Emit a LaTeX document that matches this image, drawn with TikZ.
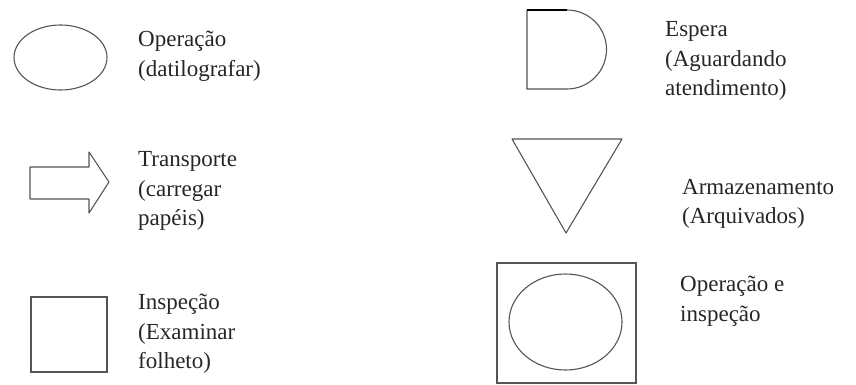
\documentclass[tikz,border=0pt]{standalone}
\usepackage{fontspec}
\setmainfont{Liberation Serif}
\usepackage{tikz}
\usetikzlibrary{shapes.geometric}
\definecolor{symline}{RGB}{85,85,85}
\begin{document}
\begin{tikzpicture}[x=1pt, y=-1pt,
  every node/.style={font=\fontsize{23}{29.5}\selectfont},
  sym/.style={draw=symline, line width=1.1pt, inner sep=0pt},
  lbl/.style={anchor=west, align=left, inner sep=0pt, text=black!85}
]
\useasboundingbox (0,0) rectangle (856,385);
% left column
\node[sym, ellipse, minimum width=93pt, minimum height=65pt] (oper) at (60.5,57.5) {};
\node[lbl] (operlbl) at (138,56) {Operação\\(datilografar)};
\draw[symline, line width=1.1pt, line join=round]
  (30,167) -- (89,167) -- (89,152) -- (109,182) -- (89,213) -- (89,199) -- (30,199) -- cycle;
\node[lbl] (transplbl) at (138,191) {Transporte\\(carregar\\papéis)};
\node[sym, rectangle, minimum width=76pt, minimum height=75pt] (insp) at (69,334.5) {};
\node[lbl] (insplbl) at (138,334) {Inspeção\\(Examinar\\folheto)};
% right column
\draw[symline, line width=1.1pt] (567,10) arc[start angle=-90, end angle=90, radius=39.5]
  -- (527,89) -- (527,10);
\draw[black, line width=2pt] (527,10) -- (567,10);
\node[lbl] (esperalbl) at (665,61) {Espera\\(Aguardando\\atendimento)};
\draw[symline, line width=1.1pt, line join=round] (512,139) -- (622,139) -- (566,233) -- cycle;
\node[lbl] (armazlbl) at (682,204) {Armazenamento\\(Arquivados)};
\node[sym, rectangle, minimum width=139pt, minimum height=120pt] (opinsp) at (566.5,323) {};
\node[sym, ellipse, minimum width=113pt, minimum height=96pt] (opinspin) at (565.5,322) {};
\node[lbl] (opinsplbl) at (680,301) {Operação e\\inspeção};
\end{tikzpicture}
\end{document}
